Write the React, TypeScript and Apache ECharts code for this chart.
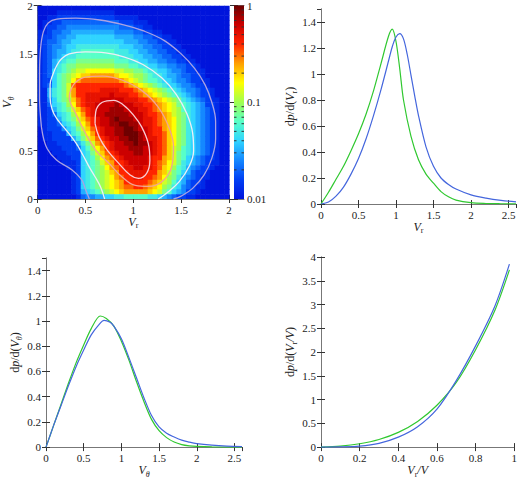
import React, { useEffect, useRef } from 'react';
import * as echarts from 'echarts';

// ---------- heat map ----------
// Cell centres (Vr across, Vtheta down). Each row is run-length coded: letter = level ('a' = 0 ... 'u' = 10, steps of 0.5),
// number = how many cells in a row. Level k <-> density 10^(k/5 - 2), i.e. colour-bar position k/10.
const VR_CENTERS = [0.025, 0.075, 0.125, 0.175, 0.225, 0.275, 0.325, 0.375, 0.425, 0.475, 0.525, 0.575, 0.625, 0.675, 0.725, 0.775, 0.825, 0.875, 0.925, 0.975, 1.025, 1.075, 1.125, 1.175, 1.225, 1.275, 1.325, 1.375, 1.425, 1.475, 1.525, 1.575, 1.625, 1.675, 1.725, 1.775, 1.825, 1.875, 1.925, 1.975];
const VTH_CENTERS = [1.975, 1.925, 1.875, 1.825, 1.775, 1.725, 1.675, 1.625, 1.575, 1.525, 1.475, 1.425, 1.375, 1.325, 1.275, 1.225, 1.175, 1.125, 1.075, 1.025, 0.975, 0.925, 0.875, 0.825, 0.775, 0.725, 0.675, 0.625, 0.575, 0.525, 0.475, 0.425, 0.375, 0.325, 0.275, 0.225, 0.175, 0.125, 0.075, 0.025];
const DENSITY_ROWS = [
  'a40',
  'a4b12a24',
  'a2b2c12b5a19',
  'a1b2c2d12c3b3a17',
  'a1b1c2d2e11d3c2b2a16',
  'b2c1d2e2f9e4d2c2b2a14',
  'b1c2d1e2f2g8f4e2d2c2b2a12',
  'b1c1d2e1f2g11f3e2d2c2b2a11',
  'b1c1d1e2f1g2h9g3f2e2d2c2b2a10',
  'b1c1d1e1f2g1h2i7h3g2f2e2d2c2b2a9',
  'b1c1d1e1f1g1h2i9h3g2f2e2d2c2b2a8',
  'b1c1d1f1g1h1i2j8i3h2g2f2e2d2c2b2a7',
  'b1c1d1f1h1i1j2k8j3i2h2g2f2e2d2c2b1a6',
  'b1c1d1g1h1i1j1k1l2m6l2k2j2i1h2g2f1e2d1c2b2a5',
  'b1c1d1g1i1j1k1l1m1n2o5n1m2l1k2j1i1h2g1f2e1d2c2b1a5',
  'b1c2g1i1j1k1m1o1p8o1n1m1l1k1j1i2h1g2f1e2d1c2b2a4',
  'b1c1d1g1i1j1l1p1q10p1o1n1m1l1k1j1i1h1g2f1e2d1c2b1a4',
  'b2f1h1i1j1l1o1q5r4q3p1o1n1m1l1k1j1i1h1g1f1e2d1c2b1a3',
  'b2f1h1i1j1l1o1q2r5s1r3q2p1o1n1m1l1k1j1i1h1g1f1e1d1c2b1a3',
  'b2e1g1i1j1k1n1p1q1r3s5r3q2p1o1n1m1l1k1j1h1g1f1e1d1c1b2a2',
  'b2d1g1h1i1k1m1p1q1r2s4t1s3r2q2p1o1n1m1l1j1i1h1g1f1e1c2b1a2',
  'b2c1f1h1i1j1l1n1p1q1r1s3t3s3r2q1p1o1n1m1l1k1i1h1g1f1e1d1c1b1a2',
  'b2c1d1g1h1i1k1m1o1q1r1s2t5s3r1q2p1o1n1l1k1j1h1g1f1e1d1c1b1a2',
  'b2c2f1h1i1j1l1n1p1q1r1s2t1u1t3s2r2q1p1o1n1m1k1j1h1g1f1e1d1c1b1a2',
  'b2c2d1g1h1i1k1m1o1q1r1s2t2u2t2s1r2q1p1o1n1m1k1j1h1g1f1e1d1c1b1a2',
  'a1b1c3e1g1h1j1l1n1p1q1r1s2t2u2t1s2r1q2o1n1m1k1j1h1g1f1e1d1c1b1a2',
  'a1b2c3f1h1i1k1m1o1q1r1s2t2u3t1s1r1q2p1n1m1k1j1h1g1f1e1d1c1b1a2',
  'a1b2c4f1h1j1l1n1p1q1r1s2t2u2t1s1r2q1p1n1m1k1j1h1g1f1e1d1c1b1a2',
  'a2b2c4f1h1j1l1o1p1q1r1s2t2u1t2s1r1q1p1n1m1k1j1h1g1f1e1d1c1b1a2',
  'a2b3c3d1g1i1k1m1o1q1r1s3t3s2r1q1p1n1l1k1i1h1g1f1e1d1c1b1a2',
  'a3b3c3g1h1j1l1n1p1q1r1s3t2s2r1q1p1n1l1j1i1h1g1f1e1d1c1b1a2',
  'a4b3c2g1h1i1k1m1o1p1q1r1s5r1q2o1n1l1j1i1g1f1e1d1c2b1a2',
  'a5b3c1g1h1i1j1l1n1o1q2r1s4r1q1p1o1m1l1j1h1g1f1e1d1c1b2a2',
  'a6b2c1g1h1i1j1k1m1o1p1q1r2s2r2q1p1n1m1k1i1h1f1e1d1c2b1a3',
  'a7b1c1g1h1i1j1k1l1n1o1q2r4q2o1n1l1j1i1g1f1d1c2b1a4',
  'a7b1c1g1h1i1j1k1l1m1o1p1q2r2q2p1o1m1k1j1h1f1e1d1c1b2a4',
  'a7b1c1g1h1i1j1k1l1m1n1o1q5p1o1n1l1k1i1g1f1d1c2b1a5',
  'a7b1c1g1h1i1j1k1l1m1n1o1p2q2p1o1n1m1k1j1h1g1e1d1c1b2a5',
  'a7b1c1f1g1h1i1j1k1l1m1n1o5n1m1l1j1i1g1f1e1c2b1a6',
  'a8b1d1e2f2g2h2i5h2g1f1e1d1c2b2a7',
];
const JET_COLORS = ['#0014dc', '#0040f4', '#1488ff', '#30d4ff', '#58ffc8', '#a0ff50', '#ffff00', '#ffa000', '#ff2400', '#cc0000', '#6e0000'];
const COLORBAR_MINOR = [0.02, 0.03, 0.04, 0.05, 0.06, 0.07, 0.08, 0.09, 0.2, 0.3, 0.4, 0.5, 0.6, 0.7, 0.8, 0.9];

// ---------- contours [Vr, Vtheta] ----------
const CONTOUR_OUTER = [[0.54, 0], [0.5, 0.1], [0.46, 0.2], [0.36, 0.3], [0.2, 0.4], [0.1, 0.52], [0.05, 0.68], [0.03, 0.85], [0.02, 1.05], [0.02, 1.3], [0.03, 1.55], [0.06, 1.73], [0.11, 1.82], [0.2, 1.86], [0.4, 1.87], [0.65, 1.85], [0.9, 1.8], [1.1, 1.74], [1.32, 1.64], [1.5, 1.5], [1.64, 1.35], [1.75, 1.18], [1.82, 1.0], [1.86, 0.8], [1.86, 0.62], [1.82, 0.42], [1.74, 0.25], [1.62, 0.11], [1.5, 0.03], [1.42, 0]];
const CONTOUR_WHITE = [[0.7, 0], [0.66, 0.12], [0.6, 0.23], [0.54, 0.33], [0.47, 0.46], [0.4, 0.58], [0.3, 0.71], [0.2, 0.83], [0.15, 0.93], [0.13, 1.05], [0.13, 1.18], [0.16, 1.29], [0.2, 1.38], [0.25, 1.45], [0.33, 1.5], [0.5, 1.52], [0.71, 1.51], [0.9, 1.47], [1.1, 1.39], [1.3, 1.25], [1.45, 1.08], [1.56, 0.88], [1.62, 0.68], [1.63, 0.5], [1.58, 0.33], [1.48, 0.18], [1.36, 0.07], [1.26, 0]];
const CONTOUR_PINK = [[0.35, 1.14], [0.4, 1.21], [0.5, 1.26], [0.68, 1.27], [0.88, 1.23], [1.09, 1.12], [1.26, 0.95], [1.37, 0.745], [1.42, 0.54], [1.4, 0.33], [1.3, 0.18], [1.16, 0.13], [1.02, 0.14], [0.88, 0.23], [0.745, 0.37], [0.61, 0.5], [0.5, 0.68], [0.4, 0.88], [0.33, 1.055], [0.35, 1.14]];
const CONTOUR_INNER = [[0.6, 0.78], [0.607, 0.9], [0.676, 1.0], [0.796, 1.02], [0.899, 0.97], [1.0, 0.87], [1.087, 0.745], [1.156, 0.574], [1.173, 0.4], [1.139, 0.265], [1.053, 0.213], [0.967, 0.247], [0.848, 0.368], [0.727, 0.505], [0.642, 0.642], [0.6, 0.78]];

// ---------- dp/d(Vr) ----------
const VR_GREEN = [[0, 0], [0.1, 0.09], [0.2, 0.19], [0.3, 0.29], [0.4, 0.41], [0.5, 0.54], [0.6, 0.69], [0.7, 0.87], [0.8, 1.08], [0.9, 1.29], [0.95, 1.345], [1.0, 1.25], [1.05, 1.04], [1.1, 0.8], [1.2, 0.52], [1.3, 0.34], [1.4, 0.23], [1.5, 0.16], [1.6, 0.095], [1.7, 0.055], [1.8, 0.03], [2.0, 0.01], [2.2, 0.004], [2.4, 0.002], [2.6, 0.001]];
const VR_BLUE = [[0, 0], [0.1, 0.015], [0.2, 0.06], [0.3, 0.13], [0.4, 0.23], [0.5, 0.35], [0.6, 0.5], [0.7, 0.68], [0.8, 0.88], [0.9, 1.1], [0.95, 1.21], [1.0, 1.285], [1.05, 1.31], [1.1, 1.27], [1.15, 1.15], [1.2, 0.99], [1.25, 0.83], [1.3, 0.68], [1.4, 0.44], [1.5, 0.29], [1.6, 0.2], [1.7, 0.15], [1.8, 0.115], [2.0, 0.07], [2.2, 0.045], [2.4, 0.028], [2.6, 0.017]];

// ---------- dp/d(Vtheta) ----------
const VTH_GREEN = [[0, 0], [0.1, 0.17], [0.2, 0.34], [0.3, 0.51], [0.4, 0.67], [0.5, 0.81], [0.6, 0.94], [0.72, 1.04], [0.8, 1.02], [0.9, 0.96], [1.0, 0.84], [1.1, 0.69], [1.2, 0.52], [1.3, 0.36], [1.4, 0.22], [1.5, 0.13], [1.6, 0.075], [1.7, 0.04], [1.8, 0.02], [1.9, 0.01], [2.0, 0.005], [2.2, 0.001], [2.6, 0]];
const VTH_BLUE = [[0, 0], [0.1, 0.17], [0.2, 0.33], [0.3, 0.49], [0.4, 0.64], [0.5, 0.77], [0.6, 0.89], [0.7, 0.97], [0.77, 1.005], [0.85, 0.99], [0.9, 0.96], [1.0, 0.86], [1.1, 0.71], [1.2, 0.55], [1.3, 0.39], [1.4, 0.25], [1.5, 0.16], [1.6, 0.11], [1.7, 0.08], [1.8, 0.055], [1.9, 0.04], [2.0, 0.028], [2.2, 0.015], [2.4, 0.007], [2.6, 0.003]];

// ---------- dp/d(Vr/V) ----------
const RATIO_GREEN = [[0, 0], [0.1, 0.02], [0.2, 0.07], [0.3, 0.16], [0.4, 0.31], [0.5, 0.54], [0.6, 0.88], [0.7, 1.36], [0.8, 2.05], [0.9, 2.88], [0.975, 3.73]];
const RATIO_BLUE = [[0, 0], [0.1, 0.003], [0.2, 0.02], [0.3, 0.08], [0.4, 0.21], [0.5, 0.43], [0.6, 0.8], [0.7, 1.4], [0.8, 2.13], [0.9, 2.97], [0.975, 3.85]];

const FONT = "'Liberation Serif', 'DejaVu Serif', serif";
const FRAME = '#777';
const TICK = '#333';
const TXT = '#222';
const GREEN = '#30c830';
const BLUE = '#4466dd';

const RICH = {
  t: { fontFamily: FONT, fontSize: 12, color: TXT, lineHeight: 16 },
  i: { fontFamily: FONT, fontSize: 12, fontStyle: 'italic', color: TXT, lineHeight: 16 },
  s: { fontFamily: FONT, fontSize: 8, color: TXT, lineHeight: 16, verticalAlign: 'bottom' },
  si: { fontFamily: FONT, fontSize: 8, fontStyle: 'italic', color: TXT, lineHeight: 16, verticalAlign: 'bottom' },
};

function decodeRow(code: string): number[] {
  const out: number[] = [];
  const re = /([a-u])(\d+)/g;
  let m: RegExpExecArray | null;
  while ((m = re.exec(code))) {
    const level = (m[1].charCodeAt(0) - 97) / 2;
    for (let n = 0; n < parseInt(m[2], 10); n++) out.push(level);
  }
  return out;
}

export default function App() {
  const ref = useRef<HTMLDivElement>(null);
  useEffect(() => {
    if (!ref.current) return;
    const chart = echarts.init(ref.current, undefined, { renderer: 'svg' });
    const xAxis: any[] = [];
    const yAxis: any[] = [];
    const tickCfg = { inside: true, length: 4, lineStyle: { color: TICK, width: 1 } };
    const labelCfg = { color: TXT, fontFamily: FONT, fontSize: 11 };
    function frame(grid: number, xc: any, yc: any) {
      const xi = xAxis.length;
      xAxis.push({
        type: 'value', gridIndex: grid, position: 'bottom', min: xc.min, max: xc.max, interval: xc.interval,
        name: xc.name, nameLocation: 'middle', nameGap: xc.gap, nameTextStyle: { rich: RICH },
        axisLine: { show: true, lineStyle: { color: FRAME } }, axisTick: tickCfg,
        axisLabel: { ...labelCfg, margin: 5, showMaxLabel: !xc.hideMax }, splitLine: { show: false },
      });
      xAxis.push({
        type: 'value', gridIndex: grid, position: 'top', min: xc.min, max: xc.max, interval: xc.interval,
        axisLine: { show: true, lineStyle: { color: FRAME } }, axisTick: tickCfg,
        axisLabel: { show: false }, splitLine: { show: false },
      });
      const yi = yAxis.length;
      yAxis.push({
        type: 'value', gridIndex: grid, position: 'left', min: yc.min, max: yc.max, interval: yc.interval,
        name: yc.name, nameLocation: 'middle', nameRotate: 90, nameGap: yc.gap, nameTextStyle: { rich: RICH },
        axisLine: { show: true, lineStyle: { color: FRAME } }, axisTick: tickCfg,
        axisLabel: { ...labelCfg, margin: 5, showMaxLabel: !yc.hideMax }, splitLine: { show: false },
      });
      yAxis.push({
        type: 'value', gridIndex: grid, position: 'right', min: yc.min, max: yc.max, interval: yc.interval,
        axisLine: { show: true, lineStyle: { color: FRAME } }, axisTick: tickCfg,
        axisLabel: { show: false }, splitLine: { show: false },
      });
      return [xi, yi];
    }

    const [hx, hy] = frame(0,
      { min: 0, max: 2, interval: 0.5, name: '{i|V}{s|r}', gap: 12 },
      { min: 0, max: 2, interval: 0.5, name: '{i|V}{si|θ}', gap: 20 });

    const cbx = xAxis.length;
    xAxis.push({ type: 'value', gridIndex: 1, position: 'bottom', min: 0, max: 1, axisLine: { show: true, lineStyle: { color: FRAME } }, axisTick: { show: false }, axisLabel: { show: false }, splitLine: { show: false } });
    xAxis.push({ type: 'value', gridIndex: 1, position: 'top', min: 0, max: 1, axisLine: { show: true, lineStyle: { color: FRAME } }, axisTick: { show: false }, axisLabel: { show: false }, splitLine: { show: false } });
    const cby = yAxis.length;
    yAxis.push({ type: 'log', logBase: 10, gridIndex: 1, position: 'right', min: 0.01, max: 1, axisLine: { show: true, lineStyle: { color: FRAME } }, axisTick: { inside: true, length: 4, lineStyle: { color: TICK } }, axisLabel: { ...labelCfg, margin: 3, formatter: (v: number) => String(v) }, splitLine: { show: false } });
    yAxis.push({ type: 'log', logBase: 10, gridIndex: 1, position: 'left', min: 0.01, max: 1, axisLine: { show: true, lineStyle: { color: FRAME } }, axisTick: { inside: true, length: 4, lineStyle: { color: TICK } }, axisLabel: { show: false }, splitLine: { show: false } });

    const [ax, ay] = frame(2,
      { min: 0, max: 2.6, interval: 0.5, name: '{i|V}{s|r}', gap: 9, hideMax: true },
      { min: 0, max: 1.5, interval: 0.2, name: '{t|d}{i|p}{t|/d(}{i|V}{s|r}{t|)}', gap: 22, hideMax: true });
    const [bx, by] = frame(3,
      { min: 0, max: 2.6, interval: 0.5, name: '{i|V}{si|θ}', gap: 10, hideMax: true },
      { min: 0, max: 1.5, interval: 0.2, name: '{t|d}{i|p}{t|/d(}{i|V}{si|θ}{t|)}', gap: 22, hideMax: true });
    const [cx, cy] = frame(4,
      { min: 0, max: 1, interval: 0.2, name: '{i|V}{s|r}{i|/V}', gap: 10 },
      { min: 0, max: 4, interval: 0.5, name: '{t|d}{i|p}{t|/d(}{i|V}{s|r}{i|/V}{t|)}', gap: 22 });

    const heatData: number[][] = [];
    VTH_CENTERS.forEach((vth, i) => {
      const levels = decodeRow(DENSITY_ROWS[i]);
      VR_CENTERS.forEach((vr, j) => heatData.push([vr, vth, levels[j] ?? 0]));
    });
    const halfW = (VR_CENTERS[1] - VR_CENTERS[0]) / 2;
    const halfH = (VTH_CENTERS[0] - VTH_CENTERS[1]) / 2;

    const contour = (data: number[][], color: string) => ({
      type: 'line', xAxisIndex: hx, yAxisIndex: hy, data, showSymbol: false, smooth: 0.4, silent: true,
      lineStyle: { color, width: 1.3 }, z: 5,
    });
    const curve = (xi: number, yi: number, data: number[][], color: string) => ({
      type: 'line', xAxisIndex: xi, yAxisIndex: yi, data, showSymbol: false, smooth: 0.3, silent: true,
      lineStyle: { color, width: 1.2 },
    });

    const gradStops = JET_COLORS.map((c, k) => ({ offset: k / (JET_COLORS.length - 1), color: c }));

    chart.setOption({
      animation: false,
      backgroundColor: '#fff',
      grid: [
        { left: 34, top: 5, width: 195, height: 194 },
        { left: 234, top: 5, width: 10, height: 194 },
        { left: 321, top: 9, width: 195, height: 195 },
        { left: 46, top: 258, width: 196, height: 195 },
        { left: 321, top: 257, width: 196, height: 196 },
      ],
      xAxis, yAxis,
      visualMap: { type: 'continuous', show: false, seriesIndex: 0, dimension: 2, min: 0, max: 10, inRange: { color: JET_COLORS } },
      series: [
        {
          type: 'custom', xAxisIndex: hx, yAxisIndex: hy, data: heatData, silent: true, clip: true,
          encode: { x: 0, y: 1 },
          renderItem: (params: any, api: any) => {
            const x = api.value(0), y = api.value(1);
            const p0 = api.coord([x - halfW, y + halfH]);
            const p1 = api.coord([x + halfW, y - halfH]);
            return { type: 'rect', shape: { x: p0[0], y: p0[1], width: p1[0] - p0[0] + 0.6, height: p1[1] - p0[1] + 0.6 }, style: { fill: api.visual('color') } };
          },
        },
        contour(CONTOUR_OUTER, '#aaa2e2'),
        contour(CONTOUR_WHITE, '#eeeef6'),
        contour(CONTOUR_PINK, '#f2a494'),
        contour(CONTOUR_INNER, '#f8ccd4'),
        {
          type: 'custom', xAxisIndex: cbx, yAxisIndex: cby, data: [[0.5, 0.1]], silent: true,
          renderItem: (params: any) => {
            const cs = params.coordSys;
            return { type: 'rect', shape: { x: cs.x, y: cs.y, width: cs.width, height: cs.height }, style: { fill: new echarts.graphic.LinearGradient(0, 1, 0, 0, gradStops) } };
          },
        },
        {
          type: 'custom', xAxisIndex: cbx, yAxisIndex: cby, data: COLORBAR_MINOR.map((v) => [0, v]), silent: true, z: 4,
          renderItem: (params: any, api: any) => {
            const cs = params.coordSys;
            const p = api.coord([0, api.value(1)]);
            return {
              type: 'group', children: [
                { type: 'line', shape: { x1: cs.x, y1: p[1], x2: cs.x + 2.5, y2: p[1] }, style: { stroke: TICK, lineWidth: 1 } },
                { type: 'line', shape: { x1: cs.x + cs.width - 2.5, y1: p[1], x2: cs.x + cs.width, y2: p[1] }, style: { stroke: TICK, lineWidth: 1 } },
              ],
            };
          },
        },
        curve(ax, ay, VR_GREEN, GREEN),
        curve(ax, ay, VR_BLUE, BLUE),
        curve(bx, by, VTH_GREEN, GREEN),
        curve(bx, by, VTH_BLUE, BLUE),
        curve(cx, cy, RATIO_GREEN, GREEN),
        curve(cx, cy, RATIO_BLUE, BLUE),
      ],
    });
    return () => chart.dispose();
  }, []);
  return <div ref={ref} style={{ position: 'fixed', left: 0, top: 0, width: 520, height: 479 }} />;
}
